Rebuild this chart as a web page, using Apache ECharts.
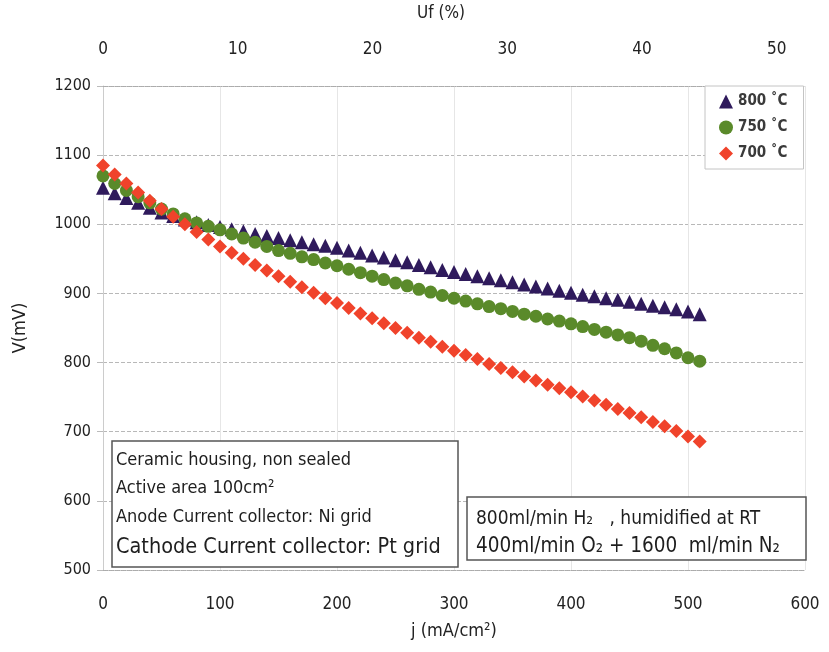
<!DOCTYPE html>
<html>
<head>
<meta charset="utf-8">
<script src="https://cdn.jsdelivr.net/npm/echarts@6/dist/echarts.min.js"></script>
<style>
  html, body { margin: 0; padding: 0; background: #fff; }
  #chart { width: 829px; height: 652px; }
</style>
</head>
<body>
<div id="chart"></div>
<script>
// current density (mA/cm2), one point every 10
var jValues = [];
for (var k = 0; k <= 510; k += 10) jValues.push(k);

var v800 = [1053,1045,1038,1031,1024,1017,1012,1007,1003,999,
            996,993,990,986,983,980,977,974,971,969,
            966,962,959,955,952,948,945,941,938,934,
            931,928,925,922,919,916,913,910,907,904,
            901,898,896,893,891,888,885,882,880,877,
            874,870];
var v750 = [1070,1059,1049,1040,1031,1022,1015,1008,1002,997,
            992,986,980,974,968,962,958,953,949,944,
            940,935,930,925,920,915,911,906,902,897,
            893,889,885,881,878,874,870,867,863,860,
            856,852,848,844,840,836,831,825,820,814,
            807,802];
var v700 = [1085,1072,1059,1046,1034,1022,1011,1000,989,978,
            968,959,950,941,933,925,917,909,901,893,
            886,879,871,864,857,850,843,836,830,823,
            817,811,805,798,792,786,780,774,768,763,
            757,751,745,739,733,727,721,714,708,701,
            693,686];

var seriesNames = ['800 ˚C', '750 ˚C', '700 ˚C'];
var boxLeft = ['Ceramic housing, non sealed', 'Active area 100cm²',
               'Anode Current collector: Ni grid', 'Cathode Current collector: Pt grid'];
var boxLeftSize = [18, 18, 18, 21.5];
var boxRight = ['800ml/min H₂   , humidified at RT', '400ml/min O₂ + 1600  ml/min N₂'];
var boxRightSize = [19, 20.5];

function pairs(vals) {
    var out = [];
    for (var i = 0; i < vals.length; i++) out.push([jValues[i], vals[i]]);
    return out;
}

var font = '"DejaVu Sans Condensed", "Liberation Sans Narrow", "DejaVu Sans", sans-serif';
var chart = echarts.init(document.getElementById('chart'));

var textEls = [];
for (var i = 0; i < boxLeft.length; i++) {
    textEls.push({
        type: 'text', left: 116, top: 451 + i * 28.5, z: 10,
        style: { text: boxLeft[i], fill: '#1e1e1e', font: boxLeftSize[i] + 'px ' + font }
    });
}
for (var i = 0; i < boxRight.length; i++) {
    textEls.push({
        type: 'text', left: 476, top: 510 + i * 26, z: 10,
        style: { text: boxRight[i], fill: '#1e1e1e', font: boxRightSize[i] + 'px ' + font }
    });
}

var option = {
    backgroundColor: '#fff',
    textStyle: { fontFamily: font },
    animation: false,
    grid: { left: 103, right: 24, top: 82, bottom: 82, containLabel: false },
    legend: {
        orient: 'vertical',
        left: 705, top: 86,
        itemGap: 11, itemWidth: 14, itemHeight: 14,
        padding: [8, 16, 8, 14],
        backgroundColor: '#fff',
        borderColor: '#c4c4c4', borderWidth: 1,
        textStyle: { fontSize: 15, fontWeight: 'bold', color: '#3a3a3a', fontFamily: font },
        data: seriesNames
    },
    xAxis: [
        {
            type: 'value', position: 'bottom', min: 0, max: 600, interval: 100,
            name: 'j (mA/cm²)', nameLocation: 'middle', nameGap: 52,
            nameTextStyle: { fontSize: 18, color: '#222' },
            axisLine: { lineStyle: { color: '#aaa', type: 'dotted' } },
            axisTick: { show: false },
            axisLabel: { fontSize: 17, color: '#222', margin: 26 },
            splitLine: { show: true, lineStyle: { color: '#e6e6e6' } }
        },
        {
            type: 'value', position: 'top', min: 0, max: 52.1, interval: 10,
            name: 'Uf (%)', nameLocation: 'middle', nameGap: 64,
            nameTextStyle: { fontSize: 17, color: '#222', padding: [0, 26, 0, 0] },
            axisLine: { lineStyle: { color: '#aaa', type: 'dotted' } },
            axisTick: { show: false },
            axisLabel: {
                fontSize: 17, color: '#222', margin: 28,
                formatter: function (v) { return v % 10 === 0 ? String(v) : ''; }
            },
            splitLine: { show: false }
        }
    ],
    yAxis: {
        type: 'value', min: 500, max: 1200, interval: 100,
        name: 'V(mV)', nameLocation: 'middle', nameGap: 74, nameRotate: 90,
        nameTextStyle: { fontSize: 18, color: '#222' },
        axisLine: { show: true, lineStyle: { color: '#ccc' } },
        axisTick: { show: true, length: 6, lineStyle: { color: '#bbb' } },
        axisLabel: { fontSize: 16, color: '#222', margin: 12,
                     formatter: function (v) { return String(v); } },
        splitLine: { lineStyle: { color: '#b8b8b8', type: 'dashed' } }
    },
    graphic: [
        { type: 'rect', shape: { x: 112, y: 441, width: 346, height: 126 }, z: 5,
          style: { fill: '#fff', stroke: '#555', lineWidth: 1.5 } },
        { type: 'rect', shape: { x: 467, y: 497, width: 339, height: 63 }, z: 5,
          style: { fill: '#fff', stroke: '#555', lineWidth: 1.5 } }
    ].concat(textEls),
    series: [
        { name: seriesNames[0], type: 'scatter', symbol: 'triangle', symbolSize: 14,
          itemStyle: { color: '#2f1a5c', opacity: 1 }, data: pairs(v800) },
        { name: seriesNames[1], type: 'scatter', symbol: 'circle', symbolSize: 13,
          itemStyle: { color: '#5a8a2a', opacity: 1 }, data: pairs(v750) },
        { name: seriesNames[2], type: 'scatter', symbol: 'diamond', symbolSize: 14,
          itemStyle: { color: '#f0432b', opacity: 1 }, data: pairs(v700) }
    ]
};

chart.setOption(option);
</script>
</body>
</html>
